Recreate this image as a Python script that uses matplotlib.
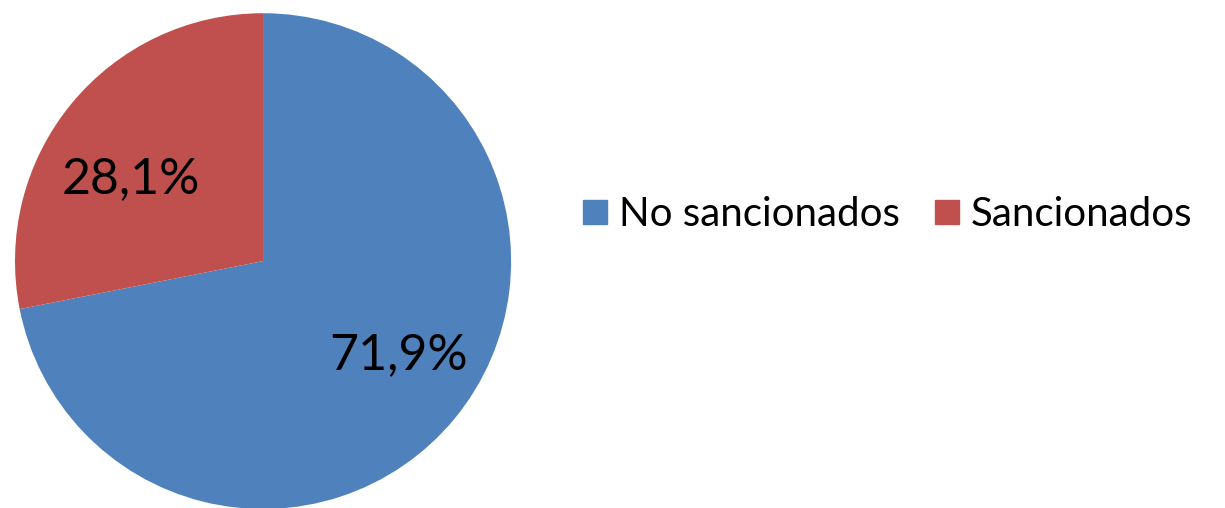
import matplotlib
matplotlib.use("Agg")
import matplotlib.pyplot as plt
from matplotlib.lines import Line2D

categories = ["No sancionados", "Sancionados"]
values = [71.9, 28.1]
colors = ["#4F81BD", "#C0504D"]

plt.rcParams["font.family"] = ["Lato", "DejaVu Sans"]

fig = plt.figure(figsize=(12.25, 5.08), dpi=100)
ax = fig.add_axes([0.01224, -0.002, 0.405, 0.976])

wedges, _ = ax.pie(values, colors=colors, startangle=90, counterclock=False,
                   radius=1.0, wedgeprops=dict(linewidth=0))
ax.set_xlim(-1, 1)
ax.set_ylim(-1, 1)
ax.set_aspect("auto")
ax.axis("off")

# value labels, placed inside each slice
label_pos = [(0.545, -0.38), (-0.535, 0.33)]
for v, (x, y) in zip(values, label_pos):
    ax.text(x, y, f"{v:.1f}%".replace(".", ","), ha="center", va="center",
            fontsize=36, color="black")

handles = [Line2D([], [], marker="s", linestyle="none", markersize=17.5,
                  markerfacecolor=c, markeredgecolor=c) for c in colors]
fig.legend(handles, categories, loc="center left", bbox_to_anchor=(0.443, 0.578),
           frameon=False, ncol=2, fontsize=29, handletextpad=0.2,
           columnspacing=0.75, handlelength=0.8)

fig.savefig("out.png", dpi=100)
